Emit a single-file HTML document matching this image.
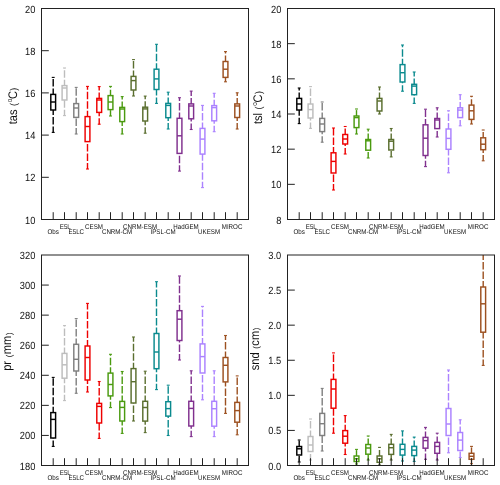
<!DOCTYPE html>
<html lang="en"><head><meta charset="utf-8"><title>Box plots</title>
<style>
html,body{margin:0;padding:0;background:#fff;}
body{width:500px;height:485px;overflow:hidden;font-family:"Liberation Sans",Arial,Helvetica,sans-serif;}
svg{display:block;}
</style></head><body>
<svg width="500" height="485" viewBox="0 0 500 485" font-family="'Liberation Sans', Arial, Helvetica, sans-serif">
<rect width="500" height="485" fill="#fff"/>
<g fill="none" stroke-width="1.45">
<g stroke="#000000"><path d="M53.20 94.40V77.40" stroke-width="1.4" stroke-dasharray="7.5 2.0" stroke-dashoffset="1.6"/><path d="M51.75 77.40H54.65" stroke-width="1.1"/><path d="M53.20 132.40V110.00" stroke-width="1.4" stroke-dasharray="7.5 2.0" stroke-dashoffset="1.6"/><path d="M51.75 132.40H54.65" stroke-width="1.1"/><rect x="50.80" y="94.40" width="4.80" height="15.60"/><path d="M50.80 102.00H55.60"/></g>
<g stroke="#bdbdbd"><path d="M64.50 85.60V68.00" stroke-width="1.4" stroke-dasharray="7.5 2.0" stroke-dashoffset="1.6"/><path d="M63.05 68.00H65.95" stroke-width="1.1"/><path d="M64.50 115.60V100.00" stroke-width="1.4" stroke-dasharray="7.5 2.0" stroke-dashoffset="1.6"/><path d="M63.05 115.60H65.95" stroke-width="1.1"/><rect x="62.10" y="85.60" width="4.80" height="14.40"/><path d="M62.10 88.00H66.90"/></g>
<g stroke="#7f7f7f"><path d="M76.20 103.60V87.40" stroke-width="1.4" stroke-dasharray="7.5 2.0" stroke-dashoffset="1.6"/><path d="M74.75 87.40H77.65" stroke-width="1.1"/><path d="M76.20 134.00V117.40" stroke-width="1.4" stroke-dasharray="7.5 2.0" stroke-dashoffset="1.6"/><path d="M74.75 134.00H77.65" stroke-width="1.1"/><rect x="73.80" y="103.60" width="4.80" height="13.80"/><path d="M73.80 108.00H78.60"/></g>
<g stroke="#ee0000"><path d="M87.50 116.60V86.40" stroke-width="1.4" stroke-dasharray="7.5 2.0" stroke-dashoffset="1.6"/><path d="M86.05 86.40H88.95" stroke-width="1.1"/><path d="M87.50 169.00V141.60" stroke-width="1.4" stroke-dasharray="7.5 2.0" stroke-dashoffset="1.6"/><path d="M86.05 169.00H88.95" stroke-width="1.1"/><rect x="85.10" y="116.60" width="4.80" height="25.00"/><path d="M85.10 126.50H89.90"/></g>
<g stroke="#ee0000"><path d="M99.20 98.40V86.60" stroke-width="1.4" stroke-dasharray="7.5 2.0" stroke-dashoffset="1.6"/><path d="M97.75 86.60H100.65" stroke-width="1.1"/><path d="M99.20 124.20V112.40" stroke-width="1.4" stroke-dasharray="7.5 2.0" stroke-dashoffset="1.6"/><path d="M97.75 124.20H100.65" stroke-width="1.1"/><rect x="96.80" y="98.40" width="4.80" height="14.00"/><path d="M96.80 100.00H101.60"/></g>
<g stroke="#4a9a0f"><path d="M110.50 95.60V86.40" stroke-width="1.4" stroke-dasharray="7.5 2.0" stroke-dashoffset="1.6"/><path d="M109.05 86.40H111.95" stroke-width="1.1"/><path d="M110.50 116.00V109.60" stroke-width="1.4" stroke-dasharray="7.5 2.0" stroke-dashoffset="1.6"/><path d="M109.05 116.00H111.95" stroke-width="1.1"/><rect x="108.10" y="95.60" width="4.80" height="14.00"/><path d="M108.10 102.00H112.90"/></g>
<g stroke="#4a9a0f"><path d="M122.20 107.40V96.60" stroke-width="1.4" stroke-dasharray="7.5 2.0" stroke-dashoffset="1.6"/><path d="M120.75 96.60H123.65" stroke-width="1.1"/><path d="M122.20 134.00V121.60" stroke-width="1.4" stroke-dasharray="7.5 2.0" stroke-dashoffset="1.6"/><path d="M120.75 134.00H123.65" stroke-width="1.1"/><rect x="119.80" y="107.40" width="4.80" height="14.20"/><path d="M119.80 109.00H124.60"/></g>
<g stroke="#5a6e2f"><path d="M133.50 76.40V59.60" stroke-width="1.4" stroke-dasharray="7.5 2.0" stroke-dashoffset="1.6"/><path d="M132.05 59.60H134.95" stroke-width="1.1"/><path d="M133.50 96.00V90.00" stroke-width="1.4" stroke-dasharray="7.5 2.0" stroke-dashoffset="1.6"/><path d="M132.05 96.00H134.95" stroke-width="1.1"/><rect x="131.10" y="76.40" width="4.80" height="13.60"/><path d="M131.10 80.60H135.90"/></g>
<g stroke="#5a6e2f"><path d="M145.20 107.20V96.10" stroke-width="1.4" stroke-dasharray="7.5 2.0" stroke-dashoffset="1.6"/><path d="M143.75 96.10H146.65" stroke-width="1.1"/><path d="M145.20 133.20V121.00" stroke-width="1.4" stroke-dasharray="7.5 2.0" stroke-dashoffset="1.6"/><path d="M143.75 133.20H146.65" stroke-width="1.1"/><rect x="142.80" y="107.20" width="4.80" height="13.80"/><path d="M142.80 108.90H147.60"/></g>
<g stroke="#0a8a8e"><path d="M156.50 69.20V44.30" stroke-width="1.4" stroke-dasharray="7.5 2.0" stroke-dashoffset="1.6"/><path d="M155.05 44.30H157.95" stroke-width="1.1"/><path d="M156.50 103.40V89.50" stroke-width="1.4" stroke-dasharray="7.5 2.0" stroke-dashoffset="1.6"/><path d="M155.05 103.40H157.95" stroke-width="1.1"/><rect x="154.10" y="69.20" width="4.80" height="20.30"/><path d="M154.10 78.90H158.90"/></g>
<g stroke="#0a8a8e"><path d="M168.20 103.40V92.20" stroke-width="1.4" stroke-dasharray="7.5 2.0" stroke-dashoffset="1.6"/><path d="M166.75 92.20H169.65" stroke-width="1.1"/><path d="M168.20 129.00V117.70" stroke-width="1.4" stroke-dasharray="7.5 2.0" stroke-dashoffset="1.6"/><path d="M166.75 129.00H169.65" stroke-width="1.1"/><rect x="165.80" y="103.40" width="4.80" height="14.30"/><path d="M165.80 105.40H170.60"/></g>
<g stroke="#80308e"><path d="M179.50 118.30V97.70" stroke-width="1.4" stroke-dasharray="7.5 2.0" stroke-dashoffset="1.6"/><path d="M178.05 97.70H180.95" stroke-width="1.1"/><path d="M179.50 171.10V153.40" stroke-width="1.4" stroke-dasharray="7.5 2.0" stroke-dashoffset="1.6"/><path d="M178.05 171.10H180.95" stroke-width="1.1"/><rect x="177.10" y="118.30" width="4.80" height="35.10"/><path d="M177.10 135.80H181.90"/></g>
<g stroke="#80308e"><path d="M191.20 103.90V91.10" stroke-width="1.4" stroke-dasharray="7.5 2.0" stroke-dashoffset="1.6"/><path d="M189.75 91.10H192.65" stroke-width="1.1"/><path d="M191.20 129.50V118.80" stroke-width="1.4" stroke-dasharray="7.5 2.0" stroke-dashoffset="1.6"/><path d="M189.75 129.50H192.65" stroke-width="1.1"/><rect x="188.80" y="103.90" width="4.80" height="14.90"/><path d="M188.80 106.00H193.60"/></g>
<g stroke="#ab82ff"><path d="M202.50 128.40V105.40" stroke-width="1.4" stroke-dasharray="7.5 2.0" stroke-dashoffset="1.6"/><path d="M201.05 105.40H203.95" stroke-width="1.1"/><path d="M202.50 187.60V154.10" stroke-width="1.4" stroke-dasharray="7.5 2.0" stroke-dashoffset="1.6"/><path d="M201.05 187.60H203.95" stroke-width="1.1"/><rect x="200.10" y="128.40" width="4.80" height="25.70"/><path d="M200.10 139.10H204.90"/></g>
<g stroke="#ab82ff"><path d="M214.20 105.60V93.30" stroke-width="1.4" stroke-dasharray="7.5 2.0" stroke-dashoffset="1.6"/><path d="M212.75 93.30H215.65" stroke-width="1.1"/><path d="M214.20 131.70V120.80" stroke-width="1.4" stroke-dasharray="7.5 2.0" stroke-dashoffset="1.6"/><path d="M212.75 131.70H215.65" stroke-width="1.1"/><rect x="211.80" y="105.60" width="4.80" height="15.20"/><path d="M211.80 107.60H216.60"/></g>
<g stroke="#9c5020"><path d="M225.50 61.50V51.60" stroke-width="1.4" stroke-dasharray="7.5 2.0" stroke-dashoffset="1.6"/><path d="M224.05 51.60H226.95" stroke-width="1.1"/><path d="M225.50 81.80V77.40" stroke-width="1.4" stroke-dasharray="7.5 2.0" stroke-dashoffset="1.6"/><path d="M224.05 81.80H226.95" stroke-width="1.1"/><rect x="223.10" y="61.50" width="4.80" height="15.90"/><path d="M223.10 69.20H227.90"/></g>
<g stroke="#9c5020"><path d="M237.20 103.90V92.80" stroke-width="1.4" stroke-dasharray="7.5 2.0" stroke-dashoffset="1.6"/><path d="M235.75 92.80H238.65" stroke-width="1.1"/><path d="M237.20 129.00V117.50" stroke-width="1.4" stroke-dasharray="7.5 2.0" stroke-dashoffset="1.6"/><path d="M235.75 129.00H238.65" stroke-width="1.1"/><rect x="234.80" y="103.90" width="4.80" height="13.60"/><path d="M234.80 106.00H239.60"/></g>
</g>
<g stroke="#222222" stroke-width="1.00" fill="none">
<rect x="41.50" y="8.50" width="207.00" height="211.00"/>
<path d="M53.20 219.50V212.20M64.50 219.50V212.20M76.20 219.50V212.20M87.50 219.50V212.20M99.20 219.50V212.20M110.50 219.50V212.20M122.20 219.50V212.20M133.50 219.50V212.20M145.20 219.50V212.20M156.50 219.50V212.20M168.20 219.50V212.20M179.50 219.50V212.20M191.20 219.50V212.20M202.50 219.50V212.20M214.20 219.50V212.20M225.50 219.50V212.20M237.20 219.50V212.20M41.50 50.70H48.80M41.50 92.90H48.80M41.50 135.10H48.80M41.50 177.30H48.80"/>
</g>
<g fill="none" stroke-width="1.45">
<g stroke="#000000"><path d="M299.20 98.40V88.00" stroke-width="1.4" stroke-dasharray="7.5 2.0" stroke-dashoffset="1.6"/><path d="M297.75 88.00H300.65" stroke-width="1.1"/><path d="M299.20 123.60V110.00" stroke-width="1.4" stroke-dasharray="7.5 2.0" stroke-dashoffset="1.6"/><path d="M297.75 123.60H300.65" stroke-width="1.1"/><rect x="296.80" y="98.40" width="4.80" height="11.60"/><path d="M296.80 104.00H301.60"/></g>
<g stroke="#bdbdbd"><path d="M310.50 104.00V86.60" stroke-width="1.4" stroke-dasharray="7.5 2.0" stroke-dashoffset="1.6"/><path d="M309.05 86.60H311.95" stroke-width="1.1"/><path d="M310.50 128.40V118.00" stroke-width="1.4" stroke-dasharray="7.5 2.0" stroke-dashoffset="1.6"/><path d="M309.05 128.40H311.95" stroke-width="1.1"/><rect x="308.10" y="104.00" width="4.80" height="14.00"/><path d="M308.10 109.60H312.90"/></g>
<g stroke="#7f7f7f"><path d="M322.20 118.40V102.00" stroke-width="1.4" stroke-dasharray="7.5 2.0" stroke-dashoffset="1.6"/><path d="M320.75 102.00H323.65" stroke-width="1.1"/><path d="M322.20 142.20V131.60" stroke-width="1.4" stroke-dasharray="7.5 2.0" stroke-dashoffset="1.6"/><path d="M320.75 142.20H323.65" stroke-width="1.1"/><rect x="319.80" y="118.40" width="4.80" height="13.20"/><path d="M319.80 124.00H324.60"/></g>
<g stroke="#ee0000"><path d="M333.50 152.80V128.00" stroke-width="1.4" stroke-dasharray="7.5 2.0" stroke-dashoffset="1.6"/><path d="M332.05 128.00H334.95" stroke-width="1.1"/><path d="M333.50 190.00V173.00" stroke-width="1.4" stroke-dasharray="7.5 2.0" stroke-dashoffset="1.6"/><path d="M332.05 190.00H334.95" stroke-width="1.1"/><rect x="331.10" y="152.80" width="4.80" height="20.20"/><path d="M331.10 161.40H335.90"/></g>
<g stroke="#ee0000"><path d="M345.20 134.50V126.50" stroke-width="1.4" stroke-dasharray="7.5 2.0" stroke-dashoffset="1.6"/><path d="M343.75 126.50H346.65" stroke-width="1.1"/><path d="M345.20 154.00V144.00" stroke-width="1.4" stroke-dasharray="7.5 2.0" stroke-dashoffset="1.6"/><path d="M343.75 154.00H346.65" stroke-width="1.1"/><rect x="342.80" y="134.50" width="4.80" height="9.50"/><path d="M342.80 139.00H347.60"/></g>
<g stroke="#4a9a0f"><path d="M356.50 116.00V109.00" stroke-width="1.4" stroke-dasharray="7.5 2.0" stroke-dashoffset="1.6"/><path d="M355.05 109.00H357.95" stroke-width="1.1"/><path d="M356.50 134.00V127.60" stroke-width="1.4" stroke-dasharray="7.5 2.0" stroke-dashoffset="1.6"/><path d="M355.05 134.00H357.95" stroke-width="1.1"/><rect x="354.10" y="116.00" width="4.80" height="11.60"/><path d="M354.10 117.60H358.90"/></g>
<g stroke="#4a9a0f"><path d="M368.20 139.50V129.20" stroke-width="1.4" stroke-dasharray="7.5 2.0" stroke-dashoffset="1.6"/><path d="M366.75 129.20H369.65" stroke-width="1.1"/><path d="M368.20 158.00V150.20" stroke-width="1.4" stroke-dasharray="7.5 2.0" stroke-dashoffset="1.6"/><path d="M366.75 158.00H369.65" stroke-width="1.1"/><rect x="365.80" y="139.50" width="4.80" height="10.70"/><path d="M365.80 140.80H370.60"/></g>
<g stroke="#5a6e2f"><path d="M379.50 98.40V87.00" stroke-width="1.4" stroke-dasharray="7.5 2.0" stroke-dashoffset="1.6"/><path d="M378.05 87.00H380.95" stroke-width="1.1"/><path d="M379.50 114.00V111.00" stroke-width="1.4" stroke-dasharray="7.5 2.0" stroke-dashoffset="1.6"/><path d="M378.05 114.00H380.95" stroke-width="1.1"/><rect x="377.10" y="98.40" width="4.80" height="12.60"/><path d="M377.10 101.00H381.90"/></g>
<g stroke="#5a6e2f"><path d="M391.20 139.50V128.50" stroke-width="1.4" stroke-dasharray="7.5 2.0" stroke-dashoffset="1.6"/><path d="M389.75 128.50H392.65" stroke-width="1.1"/><path d="M391.20 156.90V150.00" stroke-width="1.4" stroke-dasharray="7.5 2.0" stroke-dashoffset="1.6"/><path d="M389.75 156.90H392.65" stroke-width="1.1"/><rect x="388.80" y="139.50" width="4.80" height="10.50"/><path d="M388.80 141.20H393.60"/></g>
<g stroke="#0a8a8e"><path d="M402.50 64.60V45.00" stroke-width="1.4" stroke-dasharray="7.5 2.0" stroke-dashoffset="1.6"/><path d="M401.05 45.00H403.95" stroke-width="1.1"/><path d="M402.50 91.20V82.00" stroke-width="1.4" stroke-dasharray="7.5 2.0" stroke-dashoffset="1.6"/><path d="M401.05 91.20H403.95" stroke-width="1.1"/><rect x="400.10" y="64.60" width="4.80" height="17.40"/><path d="M400.10 72.70H404.90"/></g>
<g stroke="#0a8a8e"><path d="M414.20 84.30V72.00" stroke-width="1.4" stroke-dasharray="7.5 2.0" stroke-dashoffset="1.6"/><path d="M412.75 72.00H415.65" stroke-width="1.1"/><path d="M414.20 103.40V94.70" stroke-width="1.4" stroke-dasharray="7.5 2.0" stroke-dashoffset="1.6"/><path d="M412.75 103.40H415.65" stroke-width="1.1"/><rect x="411.80" y="84.30" width="4.80" height="10.40"/><path d="M411.80 86.10H416.60"/></g>
<g stroke="#80308e"><path d="M425.50 124.80V109.20" stroke-width="1.4" stroke-dasharray="7.5 2.0" stroke-dashoffset="1.6"/><path d="M424.05 109.20H426.95" stroke-width="1.1"/><path d="M425.50 166.60V155.50" stroke-width="1.4" stroke-dasharray="7.5 2.0" stroke-dashoffset="1.6"/><path d="M424.05 166.60H426.95" stroke-width="1.1"/><rect x="423.10" y="124.80" width="4.80" height="30.70"/><path d="M423.10 138.20H427.90"/></g>
<g stroke="#80308e"><path d="M437.20 118.50V107.80" stroke-width="1.4" stroke-dasharray="7.5 2.0" stroke-dashoffset="1.6"/><path d="M435.75 107.80H438.65" stroke-width="1.1"/><path d="M437.20 137.00V128.60" stroke-width="1.4" stroke-dasharray="7.5 2.0" stroke-dashoffset="1.6"/><path d="M435.75 137.00H438.65" stroke-width="1.1"/><rect x="434.80" y="118.50" width="4.80" height="10.10"/><path d="M434.80 120.00H439.60"/></g>
<g stroke="#ab82ff"><path d="M448.50 129.00V110.80" stroke-width="1.4" stroke-dasharray="7.5 2.0" stroke-dashoffset="1.6"/><path d="M447.05 110.80H449.95" stroke-width="1.1"/><path d="M448.50 172.80V149.30" stroke-width="1.4" stroke-dasharray="7.5 2.0" stroke-dashoffset="1.6"/><path d="M447.05 172.80H449.95" stroke-width="1.1"/><rect x="446.10" y="129.00" width="4.80" height="20.30"/><path d="M446.10 138.40H450.90"/></g>
<g stroke="#ab82ff"><path d="M460.20 107.80V94.70" stroke-width="1.4" stroke-dasharray="7.5 2.0" stroke-dashoffset="1.6"/><path d="M458.75 94.70H461.65" stroke-width="1.1"/><path d="M460.20 125.80V117.60" stroke-width="1.4" stroke-dasharray="7.5 2.0" stroke-dashoffset="1.6"/><path d="M458.75 125.80H461.65" stroke-width="1.1"/><rect x="457.80" y="107.80" width="4.80" height="9.80"/><path d="M457.80 110.10H462.60"/></g>
<g stroke="#9c5020"><path d="M471.50 105.10V96.30" stroke-width="1.4" stroke-dasharray="7.5 2.0" stroke-dashoffset="1.6"/><path d="M470.05 96.30H472.95" stroke-width="1.1"/><path d="M471.50 124.00V119.40" stroke-width="1.4" stroke-dasharray="7.5 2.0" stroke-dashoffset="1.6"/><path d="M470.05 124.00H472.95" stroke-width="1.1"/><rect x="469.10" y="105.10" width="4.80" height="14.30"/><path d="M469.10 110.80H473.90"/></g>
<g stroke="#9c5020"><path d="M483.20 137.80V130.00" stroke-width="1.4" stroke-dasharray="7.5 2.0" stroke-dashoffset="1.6"/><path d="M481.75 130.00H484.65" stroke-width="1.1"/><path d="M483.20 160.80V149.70" stroke-width="1.4" stroke-dasharray="7.5 2.0" stroke-dashoffset="1.6"/><path d="M481.75 160.80H484.65" stroke-width="1.1"/><rect x="480.80" y="137.80" width="4.80" height="11.90"/><path d="M480.80 144.20H485.60"/></g>
</g>
<g stroke="#222222" stroke-width="1.00" fill="none">
<rect x="287.50" y="8.50" width="207.00" height="211.00"/>
<path d="M299.20 219.50V212.20M310.50 219.50V212.20M322.20 219.50V212.20M333.50 219.50V212.20M345.20 219.50V212.20M356.50 219.50V212.20M368.20 219.50V212.20M379.50 219.50V212.20M391.20 219.50V212.20M402.50 219.50V212.20M414.20 219.50V212.20M425.50 219.50V212.20M437.20 219.50V212.20M448.50 219.50V212.20M460.20 219.50V212.20M471.50 219.50V212.20M483.20 219.50V212.20M287.50 43.67H294.80M287.50 78.83H294.80M287.50 114.00H294.80M287.50 149.17H294.80M287.50 184.33H294.80"/>
</g>
<g fill="none" stroke-width="1.45">
<g stroke="#000000"><path d="M53.20 412.60V377.40" stroke-width="1.4" stroke-dasharray="7.5 2.0" stroke-dashoffset="1.6"/><path d="M51.75 377.40H54.65" stroke-width="1.1"/><path d="M53.20 446.40V438.00" stroke-width="1.4" stroke-dasharray="7.5 2.0" stroke-dashoffset="1.6"/><path d="M51.75 446.40H54.65" stroke-width="1.1"/><rect x="50.80" y="412.60" width="4.80" height="25.40"/><path d="M50.80 419.40H55.60"/></g>
<g stroke="#bdbdbd"><path d="M64.50 353.40V325.60" stroke-width="1.4" stroke-dasharray="7.5 2.0" stroke-dashoffset="1.6"/><path d="M63.05 325.60H65.95" stroke-width="1.1"/><path d="M64.50 400.60V378.20" stroke-width="1.4" stroke-dasharray="7.5 2.0" stroke-dashoffset="1.6"/><path d="M63.05 400.60H65.95" stroke-width="1.1"/><rect x="62.10" y="353.40" width="4.80" height="24.80"/><path d="M62.10 364.80H66.90"/></g>
<g stroke="#7f7f7f"><path d="M76.20 344.30V318.60" stroke-width="1.4" stroke-dasharray="7.5 2.0" stroke-dashoffset="1.6"/><path d="M74.75 318.60H77.65" stroke-width="1.1"/><path d="M76.20 393.30V371.00" stroke-width="1.4" stroke-dasharray="7.5 2.0" stroke-dashoffset="1.6"/><path d="M74.75 393.30H77.65" stroke-width="1.1"/><rect x="73.80" y="344.30" width="4.80" height="26.70"/><path d="M73.80 359.30H78.60"/></g>
<g stroke="#ee0000"><path d="M87.50 346.00V303.40" stroke-width="1.4" stroke-dasharray="7.5 2.0" stroke-dashoffset="1.6"/><path d="M86.05 303.40H88.95" stroke-width="1.1"/><path d="M87.50 392.00V380.00" stroke-width="1.4" stroke-dasharray="7.5 2.0" stroke-dashoffset="1.6"/><path d="M86.05 392.00H88.95" stroke-width="1.1"/><rect x="85.10" y="346.00" width="4.80" height="34.00"/><path d="M85.10 357.50H89.90"/></g>
<g stroke="#ee0000"><path d="M99.20 403.40V381.50" stroke-width="1.4" stroke-dasharray="7.5 2.0" stroke-dashoffset="1.6"/><path d="M97.75 381.50H100.65" stroke-width="1.1"/><path d="M99.20 438.40V423.00" stroke-width="1.4" stroke-dasharray="7.5 2.0" stroke-dashoffset="1.6"/><path d="M97.75 438.40H100.65" stroke-width="1.1"/><rect x="96.80" y="403.40" width="4.80" height="19.60"/><path d="M96.80 406.40H101.60"/></g>
<g stroke="#4a9a0f"><path d="M110.50 373.10V354.30" stroke-width="1.4" stroke-dasharray="7.5 2.0" stroke-dashoffset="1.6"/><path d="M109.05 354.30H111.95" stroke-width="1.1"/><path d="M110.50 407.60V395.90" stroke-width="1.4" stroke-dasharray="7.5 2.0" stroke-dashoffset="1.6"/><path d="M109.05 407.60H111.95" stroke-width="1.1"/><rect x="108.10" y="373.10" width="4.80" height="22.80"/><path d="M108.10 384.50H112.90"/></g>
<g stroke="#4a9a0f"><path d="M122.20 401.40V371.50" stroke-width="1.4" stroke-dasharray="7.5 2.0" stroke-dashoffset="1.6"/><path d="M120.75 371.50H123.65" stroke-width="1.1"/><path d="M122.20 433.40V421.00" stroke-width="1.4" stroke-dasharray="7.5 2.0" stroke-dashoffset="1.6"/><path d="M120.75 433.40H123.65" stroke-width="1.1"/><rect x="119.80" y="401.40" width="4.80" height="19.60"/><path d="M119.80 407.40H124.60"/></g>
<g stroke="#5a6e2f"><path d="M133.50 368.60V337.00" stroke-width="1.4" stroke-dasharray="7.5 2.0" stroke-dashoffset="1.6"/><path d="M132.05 337.00H134.95" stroke-width="1.1"/><path d="M133.50 421.00V403.00" stroke-width="1.4" stroke-dasharray="7.5 2.0" stroke-dashoffset="1.6"/><path d="M132.05 421.00H134.95" stroke-width="1.1"/><rect x="131.10" y="368.60" width="4.80" height="34.40"/><path d="M131.10 381.70H135.90"/></g>
<g stroke="#5a6e2f"><path d="M145.20 401.30V371.20" stroke-width="1.4" stroke-dasharray="7.5 2.0" stroke-dashoffset="1.6"/><path d="M143.75 371.20H146.65" stroke-width="1.1"/><path d="M145.20 432.60V421.10" stroke-width="1.4" stroke-dasharray="7.5 2.0" stroke-dashoffset="1.6"/><path d="M143.75 432.60H146.65" stroke-width="1.1"/><rect x="142.80" y="401.30" width="4.80" height="19.80"/><path d="M142.80 407.50H147.60"/></g>
<g stroke="#0a8a8e"><path d="M156.50 333.50V281.70" stroke-width="1.4" stroke-dasharray="7.5 2.0" stroke-dashoffset="1.6"/><path d="M155.05 281.70H157.95" stroke-width="1.1"/><path d="M156.50 389.60V368.70" stroke-width="1.4" stroke-dasharray="7.5 2.0" stroke-dashoffset="1.6"/><path d="M155.05 389.60H157.95" stroke-width="1.1"/><rect x="154.10" y="333.50" width="4.80" height="35.20"/><path d="M154.10 352.00H158.90"/></g>
<g stroke="#0a8a8e"><path d="M168.20 401.70V385.20" stroke-width="1.4" stroke-dasharray="7.5 2.0" stroke-dashoffset="1.6"/><path d="M166.75 385.20H169.65" stroke-width="1.1"/><path d="M168.20 435.50V416.10" stroke-width="1.4" stroke-dasharray="7.5 2.0" stroke-dashoffset="1.6"/><path d="M166.75 435.50H169.65" stroke-width="1.1"/><rect x="165.80" y="401.70" width="4.80" height="14.40"/><path d="M165.80 408.60H170.60"/></g>
<g stroke="#80308e"><path d="M179.50 310.70V276.00" stroke-width="1.4" stroke-dasharray="7.5 2.0" stroke-dashoffset="1.6"/><path d="M178.05 276.00H180.95" stroke-width="1.1"/><path d="M179.50 360.00V340.50" stroke-width="1.4" stroke-dasharray="7.5 2.0" stroke-dashoffset="1.6"/><path d="M178.05 360.00H180.95" stroke-width="1.1"/><rect x="177.10" y="310.70" width="4.80" height="29.80"/><path d="M177.10 319.20H181.90"/></g>
<g stroke="#80308e"><path d="M191.20 401.30V370.80" stroke-width="1.4" stroke-dasharray="7.5 2.0" stroke-dashoffset="1.6"/><path d="M189.75 370.80H192.65" stroke-width="1.1"/><path d="M191.20 436.60V426.00" stroke-width="1.4" stroke-dasharray="7.5 2.0" stroke-dashoffset="1.6"/><path d="M189.75 436.60H192.65" stroke-width="1.1"/><rect x="188.80" y="401.30" width="4.80" height="24.70"/><path d="M188.80 408.40H193.60"/></g>
<g stroke="#ab82ff"><path d="M202.50 343.90V306.40" stroke-width="1.4" stroke-dasharray="7.5 2.0" stroke-dashoffset="1.6"/><path d="M201.05 306.40H203.95" stroke-width="1.1"/><path d="M202.50 399.80V373.00" stroke-width="1.4" stroke-dasharray="7.5 2.0" stroke-dashoffset="1.6"/><path d="M201.05 399.80H203.95" stroke-width="1.1"/><rect x="200.10" y="343.90" width="4.80" height="29.10"/><path d="M200.10 356.60H204.90"/></g>
<g stroke="#ab82ff"><path d="M214.20 401.30V370.80" stroke-width="1.4" stroke-dasharray="7.5 2.0" stroke-dashoffset="1.6"/><path d="M212.75 370.80H215.65" stroke-width="1.1"/><path d="M214.20 436.60V426.20" stroke-width="1.4" stroke-dasharray="7.5 2.0" stroke-dashoffset="1.6"/><path d="M212.75 436.60H215.65" stroke-width="1.1"/><rect x="211.80" y="401.30" width="4.80" height="24.90"/><path d="M211.80 408.70H216.60"/></g>
<g stroke="#9c5020"><path d="M225.50 357.50V335.50" stroke-width="1.4" stroke-dasharray="7.5 2.0" stroke-dashoffset="1.6"/><path d="M224.05 335.50H226.95" stroke-width="1.1"/><path d="M225.50 413.40V381.90" stroke-width="1.4" stroke-dasharray="7.5 2.0" stroke-dashoffset="1.6"/><path d="M224.05 413.40H226.95" stroke-width="1.1"/><rect x="223.10" y="357.50" width="4.80" height="24.40"/><path d="M223.10 365.30H227.90"/></g>
<g stroke="#9c5020"><path d="M237.20 402.40V375.90" stroke-width="1.4" stroke-dasharray="7.5 2.0" stroke-dashoffset="1.6"/><path d="M235.75 375.90H238.65" stroke-width="1.1"/><path d="M237.20 434.80V422.20" stroke-width="1.4" stroke-dasharray="7.5 2.0" stroke-dashoffset="1.6"/><path d="M235.75 434.80H238.65" stroke-width="1.1"/><rect x="234.80" y="402.40" width="4.80" height="19.80"/><path d="M234.80 410.60H239.60"/></g>
</g>
<g stroke="#222222" stroke-width="1.00" fill="none">
<rect x="41.50" y="255.00" width="207.00" height="210.50"/>
<path d="M53.20 465.50V458.20M64.50 465.50V458.20M76.20 465.50V458.20M87.50 465.50V458.20M99.20 465.50V458.20M110.50 465.50V458.20M122.20 465.50V458.20M133.50 465.50V458.20M145.20 465.50V458.20M156.50 465.50V458.20M168.20 465.50V458.20M179.50 465.50V458.20M191.20 465.50V458.20M202.50 465.50V458.20M214.20 465.50V458.20M225.50 465.50V458.20M237.20 465.50V458.20M41.50 285.07H48.80M41.50 315.14H48.80M41.50 345.21H48.80M41.50 375.29H48.80M41.50 405.36H48.80M41.50 435.43H48.80"/>
</g>
<g fill="none" stroke-width="1.45">
<g stroke="#000000"><path d="M299.20 446.50V440.00" stroke-width="1.4" stroke-dasharray="7.5 2.0" stroke-dashoffset="1.6"/><path d="M297.75 440.00H300.65" stroke-width="1.1"/><path d="M299.20 462.00V455.00" stroke-width="1.4" stroke-dasharray="7.5 2.0" stroke-dashoffset="1.6"/><path d="M297.75 462.00H300.65" stroke-width="1.1"/><rect x="296.80" y="446.50" width="4.80" height="8.50"/><path d="M296.80 448.80H301.60"/></g>
<g stroke="#bdbdbd"><path d="M310.50 436.50V419.00" stroke-width="1.4" stroke-dasharray="7.5 2.0" stroke-dashoffset="1.6"/><path d="M309.05 419.00H311.95" stroke-width="1.1"/><path d="M310.50 460.00V451.50" stroke-width="1.4" stroke-dasharray="7.5 2.0" stroke-dashoffset="1.6"/><path d="M309.05 460.00H311.95" stroke-width="1.1"/><rect x="308.10" y="436.50" width="4.80" height="15.00"/><path d="M308.10 445.00H312.90"/></g>
<g stroke="#7f7f7f"><path d="M322.20 413.40V388.40" stroke-width="1.4" stroke-dasharray="7.5 2.0" stroke-dashoffset="1.6"/><path d="M320.75 388.40H323.65" stroke-width="1.1"/><path d="M322.20 451.00V435.50" stroke-width="1.4" stroke-dasharray="7.5 2.0" stroke-dashoffset="1.6"/><path d="M320.75 451.00H323.65" stroke-width="1.1"/><rect x="319.80" y="413.40" width="4.80" height="22.10"/><path d="M319.80 423.70H324.60"/></g>
<g stroke="#ee0000"><path d="M333.50 379.40V352.90" stroke-width="1.4" stroke-dasharray="7.5 2.0" stroke-dashoffset="1.6"/><path d="M332.05 352.90H334.95" stroke-width="1.1"/><path d="M333.50 433.20V408.20" stroke-width="1.4" stroke-dasharray="7.5 2.0" stroke-dashoffset="1.6"/><path d="M332.05 433.20H334.95" stroke-width="1.1"/><rect x="331.10" y="379.40" width="4.80" height="28.80"/><path d="M331.10 389.00H335.90"/></g>
<g stroke="#ee0000"><path d="M345.20 430.60V415.60" stroke-width="1.4" stroke-dasharray="7.5 2.0" stroke-dashoffset="1.6"/><path d="M343.75 415.60H346.65" stroke-width="1.1"/><path d="M345.20 454.50V443.20" stroke-width="1.4" stroke-dasharray="7.5 2.0" stroke-dashoffset="1.6"/><path d="M343.75 454.50H346.65" stroke-width="1.1"/><rect x="342.80" y="430.60" width="4.80" height="12.60"/><path d="M342.80 436.20H347.60"/></g>
<g stroke="#4a9a0f"><path d="M356.50 456.00V449.40" stroke-width="1.4" stroke-dasharray="7.5 2.0" stroke-dashoffset="1.6"/><path d="M355.05 449.40H357.95" stroke-width="1.1"/><path d="M356.50 464.00V461.50" stroke-width="1.4" stroke-dasharray="7.5 2.0" stroke-dashoffset="1.6"/><path d="M355.05 464.00H357.95" stroke-width="1.1"/><rect x="354.10" y="456.00" width="4.80" height="5.50"/><path d="M354.10 458.80H358.90"/></g>
<g stroke="#4a9a0f"><path d="M368.20 444.50V436.00" stroke-width="1.4" stroke-dasharray="7.5 2.0" stroke-dashoffset="1.6"/><path d="M366.75 436.00H369.65" stroke-width="1.1"/><path d="M368.20 460.00V454.20" stroke-width="1.4" stroke-dasharray="7.5 2.0" stroke-dashoffset="1.6"/><path d="M366.75 460.00H369.65" stroke-width="1.1"/><rect x="365.80" y="444.50" width="4.80" height="9.70"/><path d="M365.80 448.00H370.60"/></g>
<g stroke="#5a6e2f"><path d="M379.50 456.00V447.40" stroke-width="1.4" stroke-dasharray="7.5 2.0" stroke-dashoffset="1.6"/><path d="M378.05 447.40H380.95" stroke-width="1.1"/><path d="M379.50 465.00V462.30" stroke-width="1.4" stroke-dasharray="7.5 2.0" stroke-dashoffset="1.6"/><path d="M378.05 465.00H380.95" stroke-width="1.1"/><rect x="377.10" y="456.00" width="4.80" height="6.30"/><path d="M377.10 458.80H381.90"/></g>
<g stroke="#5a6e2f"><path d="M391.20 444.30V434.40" stroke-width="1.4" stroke-dasharray="7.5 2.0" stroke-dashoffset="1.6"/><path d="M389.75 434.40H392.65" stroke-width="1.1"/><path d="M391.20 460.00V454.40" stroke-width="1.4" stroke-dasharray="7.5 2.0" stroke-dashoffset="1.6"/><path d="M389.75 460.00H392.65" stroke-width="1.1"/><rect x="388.80" y="444.30" width="4.80" height="10.10"/><path d="M388.80 447.70H393.60"/></g>
<g stroke="#0a8a8e"><path d="M402.50 444.30V430.90" stroke-width="1.4" stroke-dasharray="7.5 2.0" stroke-dashoffset="1.6"/><path d="M401.05 430.90H403.95" stroke-width="1.1"/><path d="M402.50 461.00V455.10" stroke-width="1.4" stroke-dasharray="7.5 2.0" stroke-dashoffset="1.6"/><path d="M401.05 461.00H403.95" stroke-width="1.1"/><rect x="400.10" y="444.30" width="4.80" height="10.80"/><path d="M400.10 449.40H404.90"/></g>
<g stroke="#0a8a8e"><path d="M414.20 446.40V437.10" stroke-width="1.4" stroke-dasharray="7.5 2.0" stroke-dashoffset="1.6"/><path d="M412.75 437.10H415.65" stroke-width="1.1"/><path d="M414.20 461.40V455.60" stroke-width="1.4" stroke-dasharray="7.5 2.0" stroke-dashoffset="1.6"/><path d="M412.75 461.40H415.65" stroke-width="1.1"/><rect x="411.80" y="446.40" width="4.80" height="9.20"/><path d="M411.80 450.10H416.60"/></g>
<g stroke="#80308e"><path d="M425.50 437.40V427.40" stroke-width="1.4" stroke-dasharray="7.5 2.0" stroke-dashoffset="1.6"/><path d="M424.05 427.40H426.95" stroke-width="1.1"/><path d="M425.50 459.30V448.20" stroke-width="1.4" stroke-dasharray="7.5 2.0" stroke-dashoffset="1.6"/><path d="M424.05 459.30H426.95" stroke-width="1.1"/><rect x="423.10" y="437.40" width="4.80" height="10.80"/><path d="M423.10 440.60H427.90"/></g>
<g stroke="#80308e"><path d="M437.20 442.40V433.20" stroke-width="1.4" stroke-dasharray="7.5 2.0" stroke-dashoffset="1.6"/><path d="M435.75 433.20H438.65" stroke-width="1.1"/><path d="M437.20 460.00V453.30" stroke-width="1.4" stroke-dasharray="7.5 2.0" stroke-dashoffset="1.6"/><path d="M435.75 460.00H438.65" stroke-width="1.1"/><rect x="434.80" y="442.40" width="4.80" height="10.90"/><path d="M434.80 446.40H439.60"/></g>
<g stroke="#ab82ff"><path d="M448.50 408.50V370.00" stroke-width="1.4" stroke-dasharray="7.5 2.0" stroke-dashoffset="1.6"/><path d="M447.05 370.00H449.95" stroke-width="1.1"/><path d="M448.50 452.80V435.50" stroke-width="1.4" stroke-dasharray="7.5 2.0" stroke-dashoffset="1.6"/><path d="M447.05 452.80H449.95" stroke-width="1.1"/><rect x="446.10" y="408.50" width="4.80" height="27.00"/><path d="M446.10 424.00H450.90"/></g>
<g stroke="#ab82ff"><path d="M460.20 432.50V419.80" stroke-width="1.4" stroke-dasharray="7.5 2.0" stroke-dashoffset="1.6"/><path d="M458.75 419.80H461.65" stroke-width="1.1"/><path d="M460.20 457.50V450.50" stroke-width="1.4" stroke-dasharray="7.5 2.0" stroke-dashoffset="1.6"/><path d="M458.75 457.50H461.65" stroke-width="1.1"/><rect x="457.80" y="432.50" width="4.80" height="18.00"/><path d="M457.80 440.10H462.60"/></g>
<g stroke="#9c5020"><path d="M471.50 453.30V446.40" stroke-width="1.4" stroke-dasharray="7.5 2.0" stroke-dashoffset="1.6"/><path d="M470.05 446.40H472.95" stroke-width="1.1"/><path d="M471.50 463.70V459.30" stroke-width="1.4" stroke-dasharray="7.5 2.0" stroke-dashoffset="1.6"/><path d="M470.05 463.70H472.95" stroke-width="1.1"/><rect x="469.10" y="453.30" width="4.80" height="6.00"/><path d="M469.10 456.30H473.90"/></g>
<g stroke="#9c5020"><path d="M483.20 287.00V255.00" stroke-width="1.4" stroke-dasharray="7.5 2.0" stroke-dashoffset="1.6"/><path d="M483.20 365.40V332.20" stroke-width="1.4" stroke-dasharray="7.5 2.0" stroke-dashoffset="1.6"/><path d="M481.75 365.40H484.65" stroke-width="1.1"/><rect x="480.80" y="287.00" width="4.80" height="45.20"/><path d="M480.80 303.80H485.60"/></g>
</g>
<g stroke="#222222" stroke-width="1.00" fill="none">
<rect x="287.50" y="255.00" width="207.00" height="210.50"/>
<path d="M299.20 465.50V458.20M310.50 465.50V458.20M322.20 465.50V458.20M333.50 465.50V458.20M345.20 465.50V458.20M356.50 465.50V458.20M368.20 465.50V458.20M379.50 465.50V458.20M391.20 465.50V458.20M402.50 465.50V458.20M414.20 465.50V458.20M425.50 465.50V458.20M437.20 465.50V458.20M448.50 465.50V458.20M460.20 465.50V458.20M471.50 465.50V458.20M483.20 465.50V458.20M287.50 290.08H294.80M287.50 325.17H294.80M287.50 360.25H294.80M287.50 395.33H294.80M287.50 430.42H294.80"/>
</g>
<defs><filter id="nf" filterUnits="userSpaceOnUse" x="0" y="0" width="500" height="485"><feOffset dx="0" dy="0"/></filter></defs>
<g filter="url(#nf)" style="text-rendering:geometricPrecision">
<g font-size="9.3" fill="#111" text-anchor="end">
<text transform="translate(35.30 12.50) scale(1 1.120)">20</text>
<text transform="translate(35.30 54.70) scale(1 1.120)">18</text>
<text transform="translate(35.30 96.90) scale(1 1.120)">16</text>
<text transform="translate(35.30 139.10) scale(1 1.120)">14</text>
<text transform="translate(35.30 181.30) scale(1 1.120)">12</text>
<text transform="translate(35.30 223.50) scale(1 1.120)">10</text>
</g>
<g font-size="6.2" fill="#111" text-anchor="middle">
<text transform="translate(53.10 234.05) scale(1 1.120)">Obs</text>
<text transform="translate(65.30 229.45) scale(1 1.120)">E5L</text>
<text transform="translate(76.30 234.05) scale(1 1.120)">E5LC</text>
<text transform="translate(94.05 229.45) scale(1 1.120)">CESM</text>
<text transform="translate(117.05 234.05) scale(1 1.120)">CNRM-CM</text>
<text transform="translate(140.05 229.45) scale(1 1.120)">CNRM-ESM</text>
<text transform="translate(163.05 234.05) scale(1 1.120)">IPSL-CM</text>
<text transform="translate(186.05 229.45) scale(1 1.120)">HadGEM</text>
<text transform="translate(209.05 234.05) scale(1 1.120)">UKESM</text>
<text transform="translate(232.05 229.45) scale(1 1.120)">MIROC</text>
</g>
<text transform="translate(16.70 106.00) rotate(-90) scale(1 1.120)" font-size="11.1" fill="#111" text-anchor="middle">tas <tspan font-size="8.88" dx="0.37" dy="0.00">(</tspan><tspan font-size="6.4" dx="0.87" dy="-4.60">o</tspan><tspan dx="-0.3" dy="4.6">C</tspan><tspan font-size="8.88" dx="0.37" dy="0.00">)</tspan></text>
<g font-size="9.3" fill="#111" text-anchor="end">
<text transform="translate(281.30 12.50) scale(1 1.120)">20</text>
<text transform="translate(281.30 47.67) scale(1 1.120)">18</text>
<text transform="translate(281.30 82.83) scale(1 1.120)">16</text>
<text transform="translate(281.30 118.00) scale(1 1.120)">14</text>
<text transform="translate(281.30 153.17) scale(1 1.120)">12</text>
<text transform="translate(281.30 188.33) scale(1 1.120)">10</text>
<text transform="translate(281.30 223.50) scale(1 1.120)">8</text>
</g>
<g font-size="6.2" fill="#111" text-anchor="middle">
<text transform="translate(299.10 234.05) scale(1 1.120)">Obs</text>
<text transform="translate(311.30 229.45) scale(1 1.120)">E5L</text>
<text transform="translate(322.30 234.05) scale(1 1.120)">E5LC</text>
<text transform="translate(340.05 229.45) scale(1 1.120)">CESM</text>
<text transform="translate(363.05 234.05) scale(1 1.120)">CNRM-CM</text>
<text transform="translate(386.05 229.45) scale(1 1.120)">CNRM-ESM</text>
<text transform="translate(409.05 234.05) scale(1 1.120)">IPSL-CM</text>
<text transform="translate(432.05 229.45) scale(1 1.120)">HadGEM</text>
<text transform="translate(455.05 234.05) scale(1 1.120)">UKESM</text>
<text transform="translate(478.05 229.45) scale(1 1.120)">MIROC</text>
</g>
<text transform="translate(262.20 107.60) rotate(-90) scale(1 1.120)" font-size="11.1" fill="#111" text-anchor="middle">tsl <tspan font-size="8.88" dx="0.37" dy="0.00">(</tspan><tspan font-size="6.4" dx="0.87" dy="-4.60">o</tspan><tspan dx="-0.3" dy="4.6">C</tspan><tspan font-size="8.88" dx="0.37" dy="0.00">)</tspan></text>
<g font-size="9.3" fill="#111" text-anchor="end">
<text transform="translate(35.30 259.00) scale(1 1.120)">320</text>
<text transform="translate(35.30 289.07) scale(1 1.120)">300</text>
<text transform="translate(35.30 319.14) scale(1 1.120)">280</text>
<text transform="translate(35.30 349.21) scale(1 1.120)">260</text>
<text transform="translate(35.30 379.29) scale(1 1.120)">240</text>
<text transform="translate(35.30 409.36) scale(1 1.120)">220</text>
<text transform="translate(35.30 439.43) scale(1 1.120)">200</text>
<text transform="translate(35.30 469.50) scale(1 1.120)">180</text>
</g>
<g font-size="6.2" fill="#111" text-anchor="middle">
<text transform="translate(53.10 480.05) scale(1 1.120)">Obs</text>
<text transform="translate(65.30 475.45) scale(1 1.120)">E5L</text>
<text transform="translate(76.30 480.05) scale(1 1.120)">E5LC</text>
<text transform="translate(94.05 475.45) scale(1 1.120)">CESM</text>
<text transform="translate(117.05 480.05) scale(1 1.120)">CNRM-CM</text>
<text transform="translate(140.05 475.45) scale(1 1.120)">CNRM-ESM</text>
<text transform="translate(163.05 480.05) scale(1 1.120)">IPSL-CM</text>
<text transform="translate(186.05 475.45) scale(1 1.120)">HadGEM</text>
<text transform="translate(209.05 480.05) scale(1 1.120)">UKESM</text>
<text transform="translate(232.05 475.45) scale(1 1.120)">MIROC</text>
</g>
<text transform="translate(11.40 351.70) rotate(-90) scale(1 1.120)" font-size="11.1" fill="#111" text-anchor="middle">pr <tspan font-size="7.55" dx="0.59" dy="0.35">(</tspan><tspan dx="0.59" dy="-0.35">mm</tspan><tspan font-size="7.55" dx="0.59" dy="0.35">)</tspan></text>
<g font-size="9.3" fill="#111" text-anchor="end">
<text transform="translate(281.30 259.00) scale(1 1.120)">3.0</text>
<text transform="translate(281.30 294.08) scale(1 1.120)">2.5</text>
<text transform="translate(281.30 329.17) scale(1 1.120)">2.0</text>
<text transform="translate(281.30 364.25) scale(1 1.120)">1.5</text>
<text transform="translate(281.30 399.33) scale(1 1.120)">1.0</text>
<text transform="translate(281.30 434.42) scale(1 1.120)">0.5</text>
<text transform="translate(281.30 469.50) scale(1 1.120)">0.0</text>
</g>
<g font-size="6.2" fill="#111" text-anchor="middle">
<text transform="translate(299.10 480.05) scale(1 1.120)">Obs</text>
<text transform="translate(311.30 475.45) scale(1 1.120)">E5L</text>
<text transform="translate(322.30 480.05) scale(1 1.120)">E5LC</text>
<text transform="translate(340.05 475.45) scale(1 1.120)">CESM</text>
<text transform="translate(363.05 480.05) scale(1 1.120)">CNRM-CM</text>
<text transform="translate(386.05 475.45) scale(1 1.120)">CNRM-ESM</text>
<text transform="translate(409.05 480.05) scale(1 1.120)">IPSL-CM</text>
<text transform="translate(432.05 475.45) scale(1 1.120)">HadGEM</text>
<text transform="translate(455.05 480.05) scale(1 1.120)">UKESM</text>
<text transform="translate(478.05 475.45) scale(1 1.120)">MIROC</text>
</g>
<text transform="translate(258.70 349.00) rotate(-90) scale(1 1.120)" font-size="11.1" fill="#111" text-anchor="middle">snd <tspan font-size="7.55" dx="0.59" dy="0.35">(</tspan><tspan dx="0.59" dy="-0.35">cm</tspan><tspan font-size="7.55" dx="0.59" dy="0.35">)</tspan></text>
</g>
</svg>
</body></html>
